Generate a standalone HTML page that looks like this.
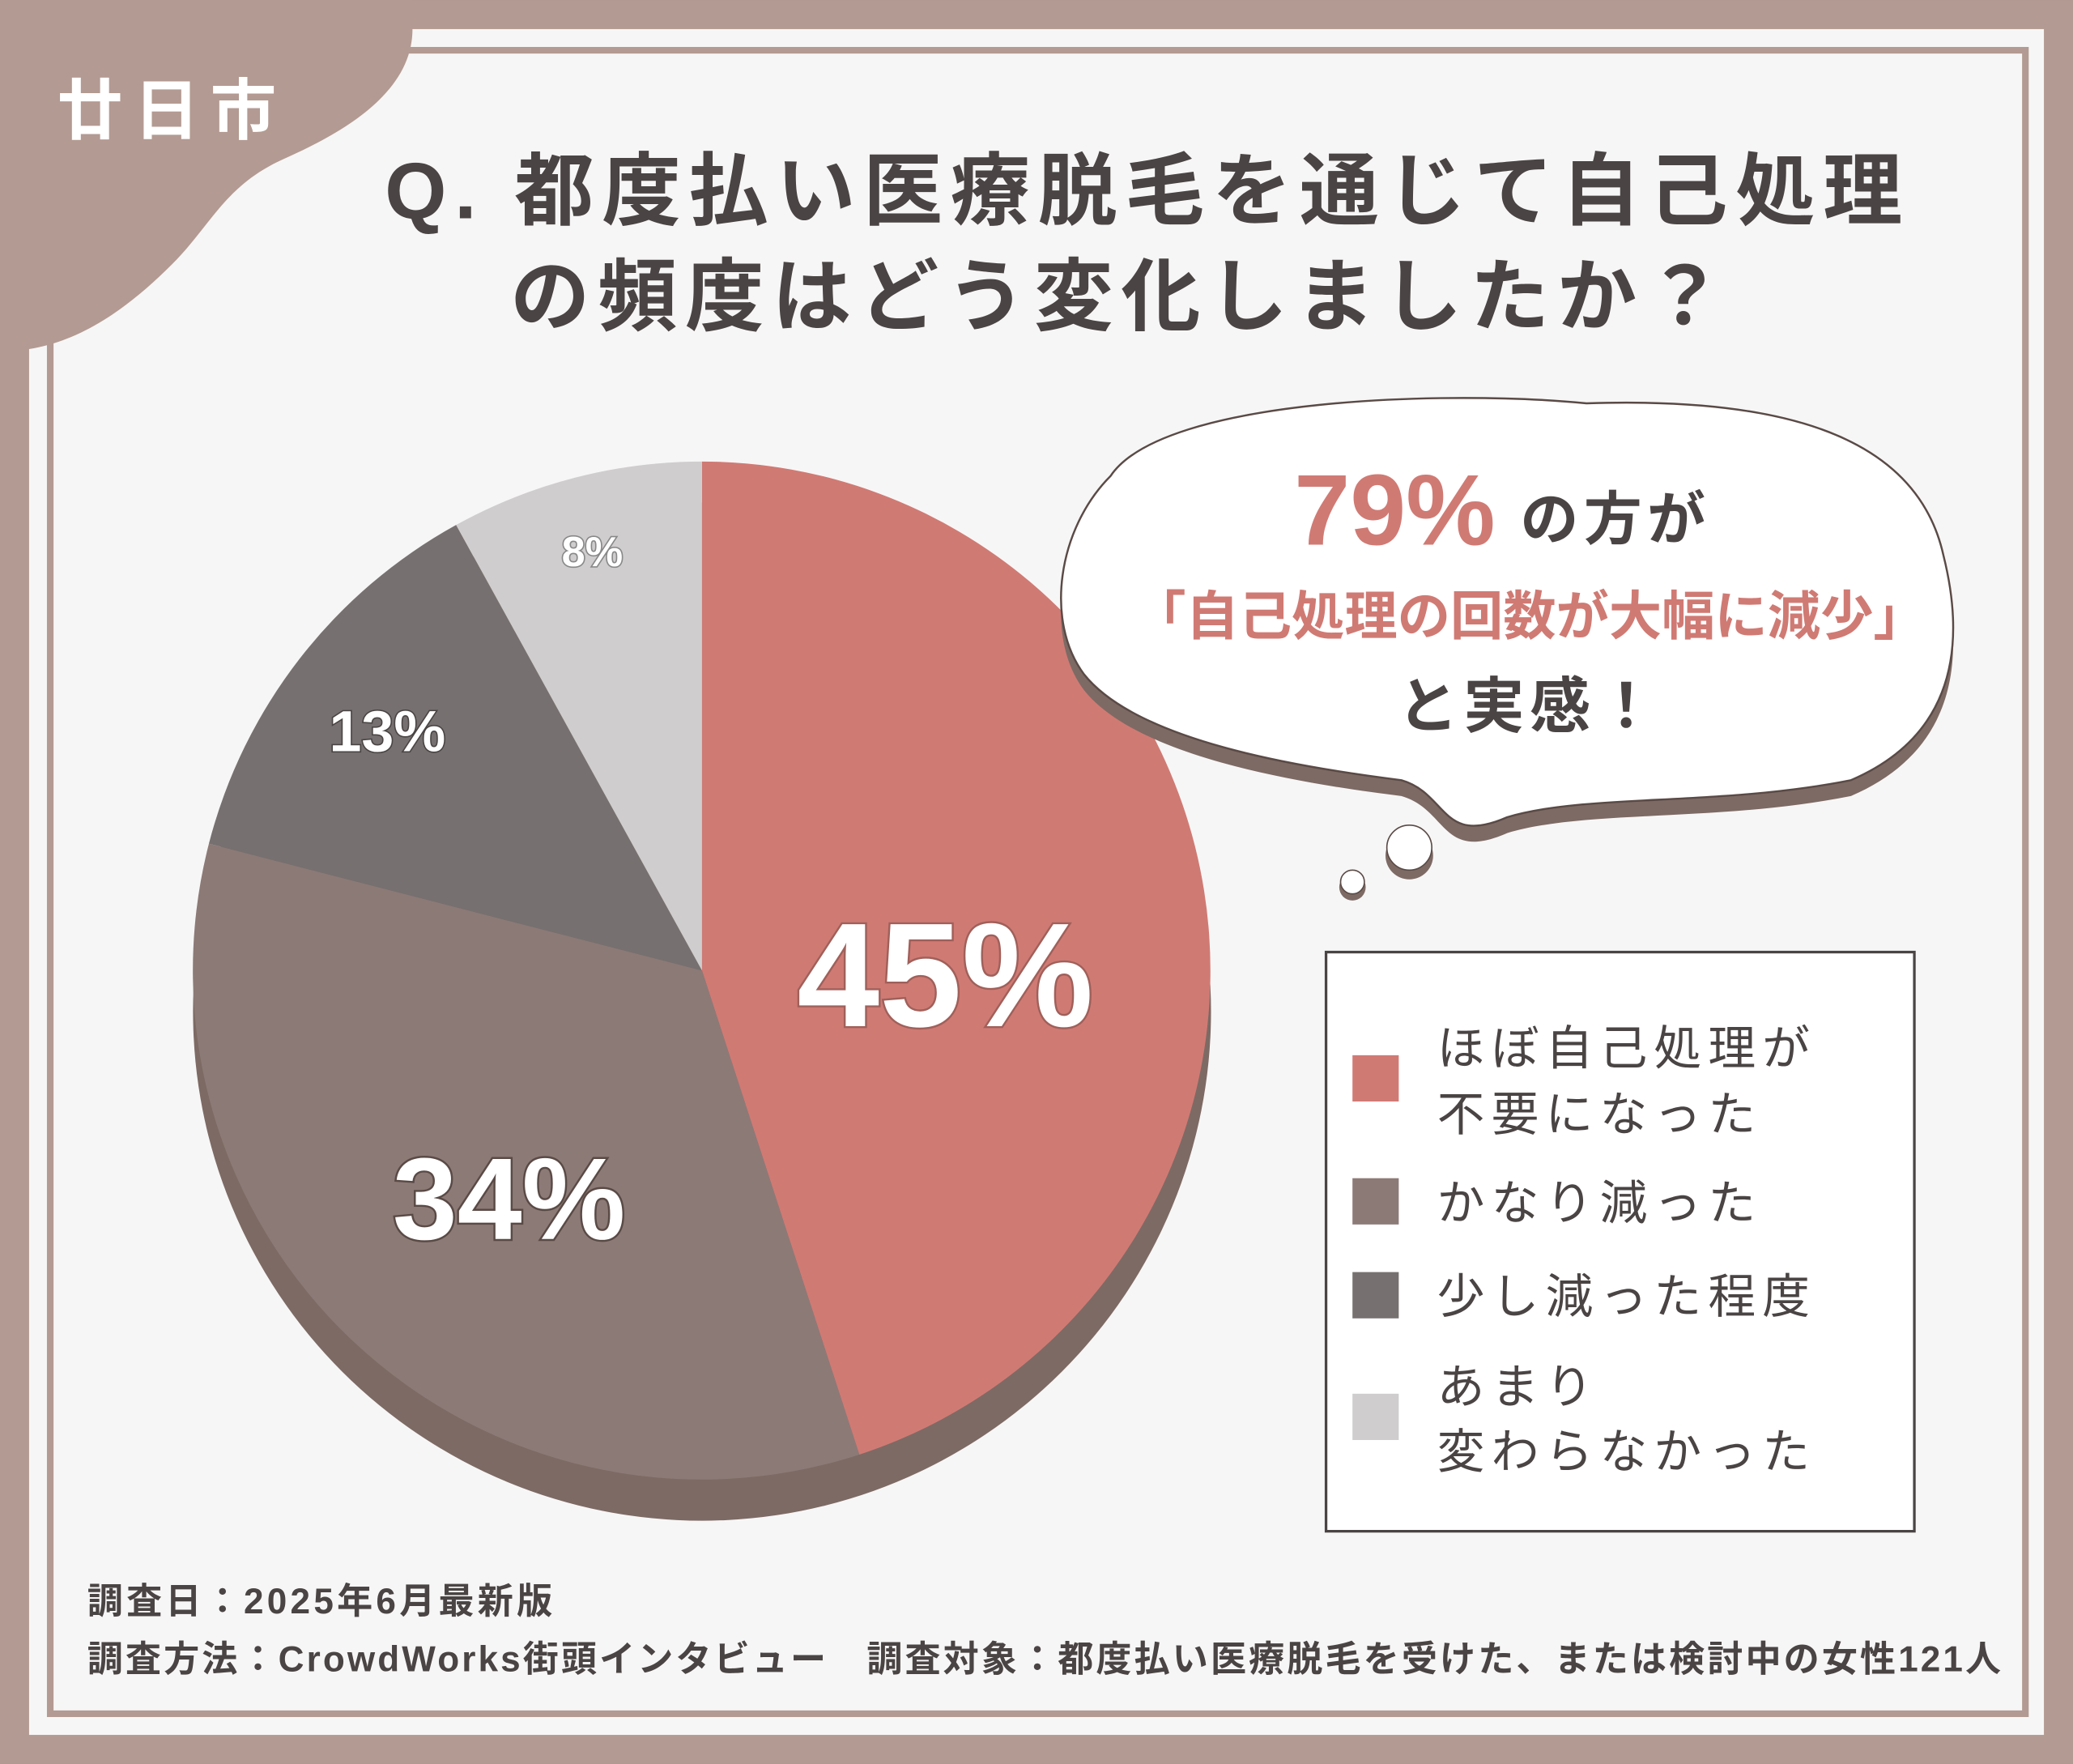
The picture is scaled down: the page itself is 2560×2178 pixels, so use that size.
<!DOCTYPE html>
<html><head><meta charset="utf-8"><style>
html,body{margin:0;padding:0;background:#b39a92;}
svg{display:block}
text{font-family:"Liberation Sans","Noto Sans CJK JP",sans-serif;}
</style></head><body>
<svg width="2560" height="2178" viewBox="0 0 1568 1334" xmlns="http://www.w3.org/2000/svg">
<rect x="0" y="0" width="1568" height="1334" fill="#b39a92"/>
<rect x="22" y="22" width="1524" height="1290" fill="#f7f6f6"/>
<rect x="38" y="38" width="1494" height="1258" fill="none" stroke="#b39a92" stroke-width="5"/>
<path d="M0,0 L312,0 L312,22 C312,70 260,100 215,120 C170,140 160,170 130,200 C95,235 60,258 22,264 L0,264 Z" fill="#b39a92"/>
<text x="130" y="101" font-size="50" fill="#fff" text-anchor="middle" font-weight="bold" letter-spacing="8">廿日市</text>
<g font-size="60" font-weight="bold" fill="#4a4444" text-anchor="middle" letter-spacing="6">
<text x="868" y="165">Q. 都度払い医療脱毛を通じて自己処理</text>
<text x="848" y="245">の頻度はどう変化しましたか？</text>
</g>
<circle cx="531" cy="765" r="385" fill="#7d6a64"/>
<path d="M531,734 L531,349 A385,385 0 0 1 650,1100 Z" fill="#d07a74"/>
<path d="M531,734 L650,1100 A385,385 0 0 1 158,638 Z" fill="#8c7a77"/>
<path d="M531,734 L158,638 A385,385 0 0 1 345,397 Z" fill="#767070"/>
<path d="M531,734 L345,397 A385,385 0 0 1 531,349 Z" fill="#cfcdcd"/>
<g font-weight="bold" fill="#fff" text-anchor="middle" stroke="#a0605a" stroke-width="3" paint-order="stroke">
<text x="715" y="776" font-size="112">45%</text>
<text x="385" y="937" font-size="88" stroke="#5a4a46">34%</text>
<text x="293" y="568" font-size="44" stroke="#4a4444" stroke-width="2">13%</text>
<text x="448" y="428" font-size="32" stroke="#888" stroke-width="2">8%</text>
</g>
<g>
<path transform="translate(0,12)" d="M840,360 C880,300 1100,295 1200,305 C1350,300 1450,330 1470,420 C1490,500 1470,560 1400,590 C1300,610 1200,600 1140,618 C1090,640 1095,600 1060,590 C980,580 860,560 820,510 C790,470 800,400 840,360 Z" fill="#7d6a64"/>
<path d="M840,360 C880,300 1100,295 1200,305 C1350,300 1450,330 1470,420 C1490,500 1470,560 1400,590 C1300,610 1200,600 1140,618 C1090,640 1095,600 1060,590 C980,580 860,560 820,510 C790,470 800,400 840,360 Z" fill="#fff" stroke="#5a4a46" stroke-width="1.5"/>
<circle cx="1066" cy="647" r="18" fill="#7d6a64"/><circle cx="1066" cy="641" r="17" fill="#fff" stroke="#5a4a46"/>
<circle cx="1023" cy="671" r="10" fill="#7d6a64"/><circle cx="1023" cy="667" r="9" fill="#fff" stroke="#5a4a46"/>
</g>
<text x="1055" y="412" font-size="76" font-weight="bold" fill="#d07a74" text-anchor="middle">79%</text>
<text x="1222" y="408" font-size="44" font-weight="bold" fill="#4a4444" text-anchor="middle" letter-spacing="4">の方が</text>
<text x="1157" y="480" font-size="40" font-weight="bold" fill="#d07a74" text-anchor="middle">「自己処理の回数が大幅に減少」</text>
<text x="1157" y="550" font-size="46" font-weight="bold" fill="#4a4444" text-anchor="middle" letter-spacing="4">と実感！</text>
<rect x="1003" y="720" width="445" height="438" fill="#fff" stroke="#4a4444" stroke-width="2"/>
<rect x="1023" y="798" width="35" height="35" fill="#d07a74"/>
<rect x="1023" y="891" width="35" height="35" fill="#8c7a77"/>
<rect x="1023" y="962" width="35" height="35" fill="#767070"/>
<rect x="1023" y="1054" width="35" height="35" fill="#cfcdcd"/>
<g font-size="36" fill="#4a4444" letter-spacing="5">
<text x="1087" y="805">ほぼ自己処理が</text>
<text x="1087" y="855">不要になった</text>
<text x="1087" y="922">かなり減った</text>
<text x="1087" y="993">少し減った程度</text>
<text x="1087" y="1061">あまり</text>
<text x="1087" y="1110">変わらなかった</text>
</g>
<g font-size="27" font-weight="bold" fill="#4a4444">
<text x="66" y="1220" letter-spacing="2.6">調査日：2025年6月最新版</text>
<text x="66" y="1264" letter-spacing="1.9">調査方法：CrowdWorks街頭インタビュー　調査対象：都度払い医療脱毛を受けた、または検討中の女性121人</text>
</g>
</svg>
</body></html>
